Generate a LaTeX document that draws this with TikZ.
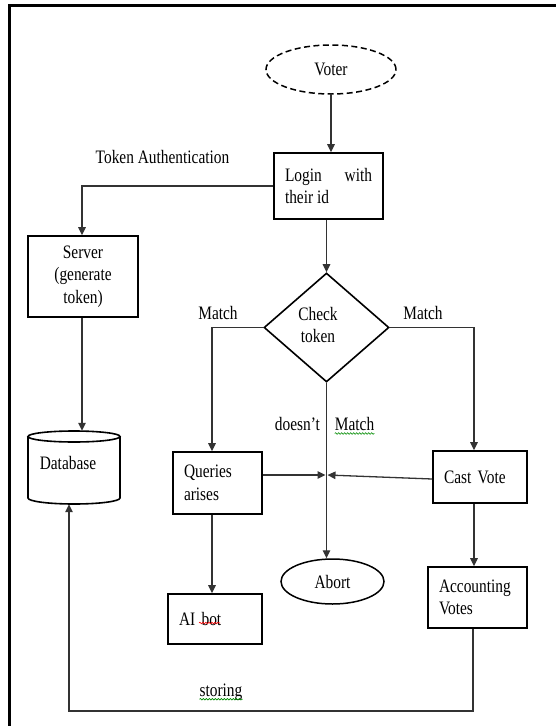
\documentclass[tikz,border=0pt]{standalone}
\usepackage{fontspec}
\setmainfont{Liberation Serif}[FakeStretch=0.81]
\usetikzlibrary{arrows.meta,shapes.geometric,decorations.pathmorphing}
\begin{document}
\begin{tikzpicture}[x=1pt,y=-1pt, font=\fontsize{19}{22.5}\selectfont,
  box/.style={draw=black, line width=1.6pt, inner xsep=11pt, inner ysep=0pt, align=left},
  conn/.style={draw=black!80, line width=1.3pt},
  arr/.style={conn, -{Triangle[length=8pt,width=7.5pt]}},
  lbl/.style={inner sep=0pt},
  wavy/.style={decorate, decoration={snake, segment length=3pt, amplitude=0.8pt}, line width=0.6pt}]
\useasboundingbox (0,0) rectangle (556,726);
\fill[white] (0,0) rectangle (556,726);
% frame
\draw[line width=2.6pt] (9.6,727) -- (9.6,5.3) -- (557,5.3);
% nodes
\node[draw, ellipse, dash pattern=on 6pt off 3.5pt, line width=1.5pt, minimum width=130pt, minimum height=49pt, inner sep=0pt] (voter) at (331,69.5) {Voter};
\node[box, text width=87pt, minimum height=66pt, align=justify] (login) at (328.5,186) {Login with their id};
\node[box, text width=88pt, minimum height=81pt, align=center] (server) at (83,276.5) {Server\\(generate\\token)};
\node[minimum width=92pt, minimum height=73pt, inner sep=0pt] (db) at (74,467.5) {};
\draw[line width=1.6pt] (74,436.5) ellipse [x radius=46pt, y radius=5.5pt];
\draw[line width=1.6pt] (28,436.5) -- (28,498) arc[start angle=180, end angle=360, x radius=46pt, y radius=6pt] -- (120,436.5);
\node[lbl] (dbtxt) at (68,463) {Database};
\node[draw, diamond, line width=1.6pt, minimum width=125pt, minimum height=109pt, inner sep=0pt] (check) at (326.5,327.5) {};
\node[lbl, align=center] (checktxt) at (318,325) {Check\\token};
\node[box, text width=67pt, minimum height=62pt] (queries) at (217.5,483) {Queries\\arises};
\node[box, text width=72pt, minimum height=52pt] (cast) at (480,477) {Cast Vote};
\node[box, text width=72pt, minimum height=50pt] (aibot) at (215,619) {AI bot};
\node[draw, ellipse, line width=1.5pt, minimum width=103pt, minimum height=45pt, inner sep=0pt] (abort) at (332.5,581.5) {Abort};
\node[box, text width=77pt, minimum height=61pt] (acc) at (477.5,597.5) {Accounting\\Votes};
% labels
\node[lbl] (tokenauth) at (162.5,157) {Token Authentication};
\node[lbl] (matchL) at (218,313) {Match};
\node[lbl] (matchR) at (423,313) {Match};
\node[lbl] (doesnt) at (297.5,424) {doesn’t};
\node[lbl] (matchD) at (354.6,424) {Match};
\node[lbl] (storing) at (221,692) {storing};
% connectors
\draw[arr] (voter.south) -- (voter.south |- login.north);
\draw[arr] (login.west) -| ([xshift=-1pt]server.north);
\draw[arr] ([xshift=-1pt]server.south) -- ([xshift=-1pt]server.south |- db.north);
\draw[arr] (check.north |- login.south) -- (check.north);
\draw[arr] (check.west) -| ([xshift=-5.5pt]queries.north);
\draw[arr] (check.east) -| ([xshift=-6pt]cast.north);
\draw[arr] (check.south) -- (check.south |- abort.north);
\coordinate (jl) at (325.5,475);
\coordinate (jr) at (327.5,475);
\draw[arr] ([yshift=8pt]queries.east) -- (jl);
\draw[arr] ([yshift=-2pt]cast.west) -- (jr);
\draw[arr] ([xshift=-5.5pt]queries.south) -- ([xshift=-5.5pt]queries.south |- aibot.north);
\draw[arr] ([xshift=-6pt]cast.south) -- ([xshift=-6pt]cast.south |- acc.north);
\coordinate (st) at (69,711);
\draw[arr] ([xshift=-4.5pt]acc.south) |- (st) -- (st |- db.south);
% spell-check underlines
\draw[wavy, green!55!black] ([yshift=-3pt]matchD.base west) -- ([yshift=-3pt]matchD.base east);
\draw[wavy, green!55!black] ([yshift=-3pt]storing.base west) -- ([yshift=-3pt]storing.base east);
\draw[wavy, red] (199,623) -- (220,623);
\end{tikzpicture}
\end{document}
